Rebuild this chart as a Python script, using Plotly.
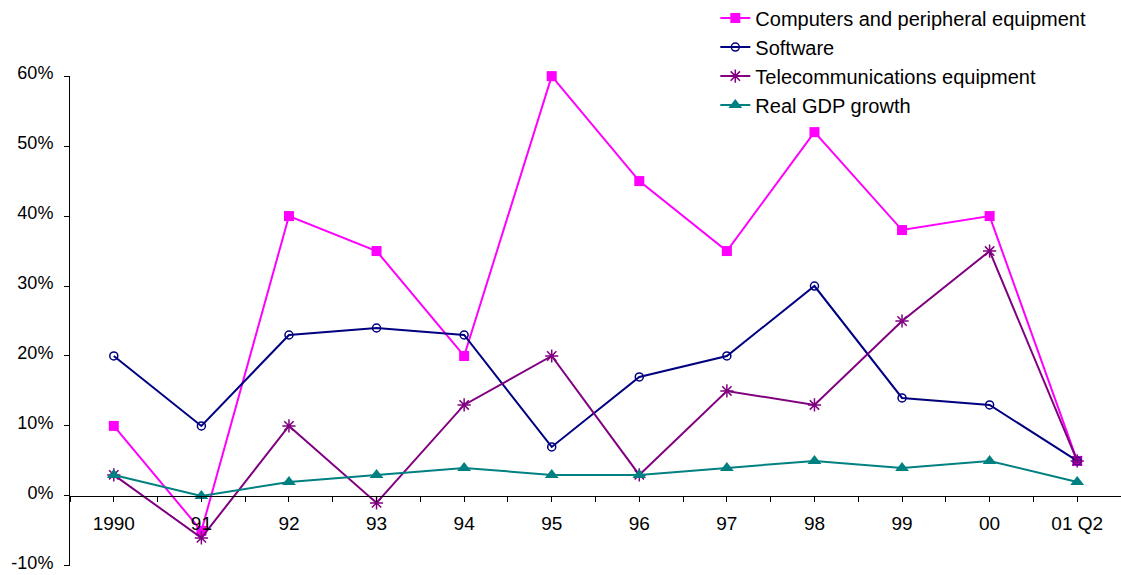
import plotly.graph_objects as go

# Period labels along the horizontal axis
periods = ["1990", "91", "92", "93", "94", "95", "96", "97", "98", "99", "00", "01 Q2"]

# Annual growth rates, percent
computers = [10, -5, 40, 35, 20, 60, 45, 35, 52, 38, 40, 5]
software = [20, 10, 23, 24, 23, 7, 17, 20, 30, 14, 13, 5]
telecom = [3, -6, 10, -1, 13, 20, 3, 15, 13, 25, 35, 5]
real_gdp = [3, 0, 2, 3, 4, 3, 3, 4, 5, 4, 5, 2]

y_min, y_max = -10, 60
positions = list(range(len(periods)))
font_family = "Liberation Sans, Arial, sans-serif"

series = [
    ("Computers and peripheral equipment", computers, "#FF00FF",
     dict(symbol="square", size=10)),
    ("Software", software, "#000080",
     dict(symbol="circle-open", size=8, line=dict(width=1.5))),
    ("Telecommunications equipment", telecom, "#800080",
     dict(symbol="asterisk-open", size=11, line=dict(width=1.5, color="#800080"))),
    ("Real GDP growth", real_gdp, "#008080",
     dict(symbol="triangle-up", size=12)),
]

fig = go.Figure()
for name, values, color, marker in series:
    fig.add_trace(go.Scatter(
        x=positions, y=values, name=name, mode="lines+markers",
        line=dict(color=color, width=2),
        marker=dict(color=color, **marker),
        cliponaxis=False,
    ))

# The category axis sits on the zero line
pad = 0.02
zero_pos = (0 - y_min) / (y_max - y_min)

fig.update_layout(
    width=1121, height=575,
    margin=dict(l=70, r=0, t=76, b=9, autoexpand=False),
    paper_bgcolor="white", plot_bgcolor="white",
    font=dict(family=font_family, size=19, color="black"),
    showlegend=True,
    legend=dict(
        x=0.614, y=1.158, xanchor="left", yanchor="top",
        bgcolor="rgba(0,0,0,0)", font=dict(size=20),
        tracegroupgap=0,
    ),
    xaxis=dict(
        range=[-0.5, len(periods) - 0.5],
        tickmode="array", tickvals=positions, ticktext=periods,
        anchor="free", position=zero_pos,
        showline=True, linecolor="black", linewidth=1,
        ticks="outside", ticklen=5, tickcolor="black", tickwidth=1,
        minor=dict(tick0=0.5, dtick=1, ticks="outside", ticklen=5,
                   tickcolor="black", tickwidth=1),
        showgrid=False, zeroline=False,
        ticklabelstandoff=5,
        automargin=False,
        fixedrange=True,
    ),
    xaxis2=dict(
        overlaying="x",
        range=[-0.5, len(periods) - 0.5],
        tickmode="array", tickvals=positions, ticktext=[""] * len(periods),
        anchor="free", position=zero_pos, side="bottom",
        showline=False, ticks="inside", ticklen=5, tickcolor="black",
        tickwidth=1, showgrid=False, zeroline=False, showticklabels=False,
        automargin=False,
    ),
    yaxis=dict(
        range=[y_min - pad, y_max + pad], tickvals=list(range(y_min, y_max + 1, 10)),
        ticktext=[f"{v}%" for v in range(y_min, y_max + 1, 10)],
        tickfont=dict(size=18),
        showline=True, linecolor="black", linewidth=1,
        ticks="outside", ticklen=5, tickcolor="black",
        showgrid=False, zeroline=False,
        ticklabelstandoff=7,
        ticklabelshift=-3,
        ticklabeloverflow="allow",
        automargin=False,
    ),
)

fig.write_html("out.html")
